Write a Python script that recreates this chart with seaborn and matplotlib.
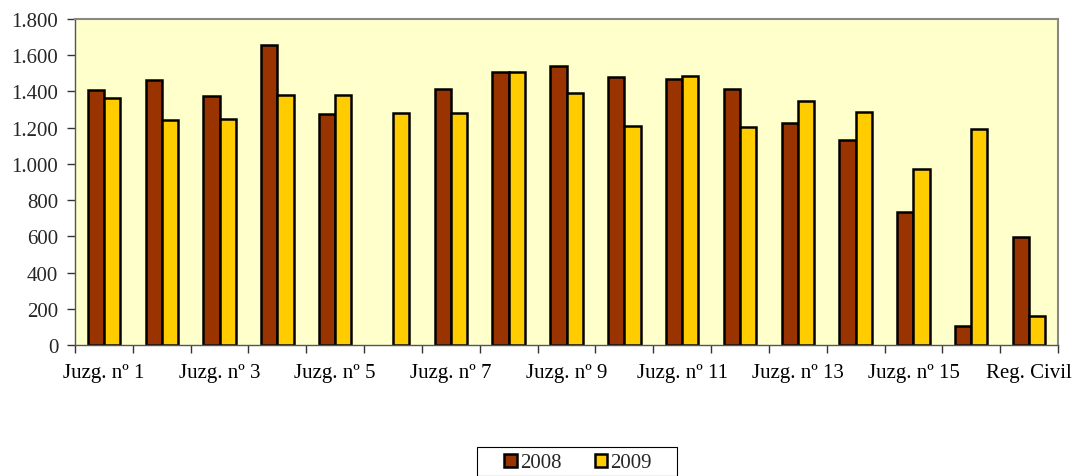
import numpy as np
import pandas as pd
import matplotlib
matplotlib.use('Agg')
import matplotlib.pyplot as plt
import seaborn as sns
from matplotlib.ticker import FuncFormatter
from matplotlib.patches import Rectangle

# input data
categories = ['Juzg. nº 1', 'Juzg. nº 2', 'Juzg. nº 3', 'Juzg. nº 4', 'Juzg. nº 5',
              'Juzg. nº 6', 'Juzg. nº 7', 'Juzg. nº 8', 'Juzg. nº 9', 'Juzg. nº 10',
              'Juzg. nº 11', 'Juzg. nº 12', 'Juzg. nº 13', 'Juzg. nº 14', 'Juzg. nº 15',
              'Juzg. nº 16', 'Reg. Civil']
values_2008 = [1409, 1464, 1376, 1657, 1278, np.nan, 1415, 1510, 1540, 1477,
               1470, 1412, 1227, 1134, 733, 105, 594]
values_2009 = [1365, 1241, 1248, 1380, 1380, 1283, 1282, 1510, 1392, 1207,
               1484, 1205, 1347, 1288, 974, 1194, 160]

df = pd.DataFrame({
    'cat': categories * 2,
    'year': ['2008'] * len(categories) + ['2009'] * len(categories),
    'value': values_2008 + values_2009,
})

sns.set_style('white')
plt.rcParams['font.family'] = ['Liberation Serif', 'DejaVu Serif']

W, H = 1074, 477
fig = plt.figure(figsize=(W / 100, H / 100), dpi=100)
ax = fig.add_axes([75 / W, 1 - 346 / H, (1058 - 75) / W, (346 - 20) / H])
ax.set_facecolor('#FFFFCC')

sns.barplot(data=df, x='cat', y='value', hue='year',
            palette={'2008': '#993300', '2009': '#FFCC00'}, saturation=1,
            edgecolor='black', linewidth=1.8, width=0.56, ax=ax)

ax.set_ylim(0, 1800)
ax.set_xlim(-0.5, len(categories) - 0.5)
ax.set_yticks(range(0, 1801, 200))
ax.yaxis.set_major_formatter(FuncFormatter(lambda v, p: '{:,.0f}'.format(v).replace(',', '.')))

# ticks at category boundaries, labels on every other category
ax.set_xticks(np.arange(-0.5, len(categories), 1.0))
ax.set_xticklabels([])
ax.set_xticks(np.arange(0, len(categories), 2), minor=True)
ax.set_xticklabels(categories[::2], minor=True)
ax.tick_params(axis='x', which='major', direction='out', length=6, width=1, color='#333333', bottom=True)
ax.tick_params(axis='x', which='minor', length=0, labelsize=15, pad=13, colors='black')
ax.tick_params(axis='y', direction='out', length=6, width=1, color='#333333', left=True,
               labelsize=15, pad=6)
ax.set_xlabel('')
ax.set_ylabel('')

for side in ['left', 'bottom']:
    ax.spines[side].set_color('#555555')
    ax.spines[side].set_linewidth(1)
for side in ['top', 'right']:
    ax.spines[side].set_color('#888888')
    ax.spines[side].set_linewidth(1.5)

handles, labels = ax.get_legend_handles_labels()
ax.legend_.remove()
fig.legend(handles, labels, loc='center', bbox_to_anchor=(578 / W, 1 - 464 / H),
           ncol=2, frameon=False, fontsize=15,
           handlelength=0.6, handleheight=0.6, handletextpad=0.15, columnspacing=1.6,
           borderpad=0, borderaxespad=0)
# legend box, cut by the bottom edge like the original
fig.patches.append(Rectangle((477 / W, 0), 200 / W, (H - 448) / H, transform=fig.transFigure,
                             fill=False, edgecolor='black', linewidth=0.8))

fig.savefig('out.png', dpi=100)
